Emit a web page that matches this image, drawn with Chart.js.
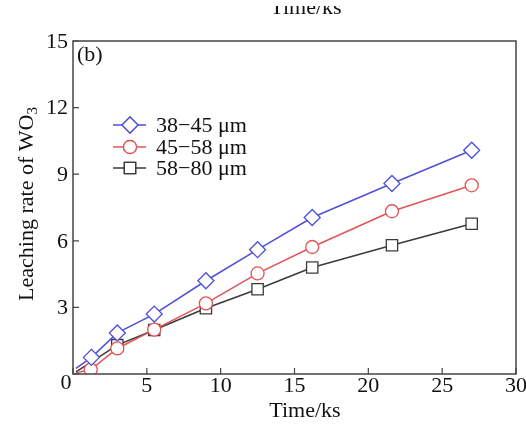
<!DOCTYPE html>
<html>
<head>
<meta charset="utf-8">
<script src="https://cdn.jsdelivr.net/npm/chart.js@4.4.0/dist/chart.umd.min.js"></script>
<style>
  html, body { margin: 0; padding: 0; background: #fff; }
  #wrap { width: 526px; height: 425px; }
</style>
</head>
<body>
<div id="wrap"><canvas id="chart"></canvas></div>
<script>
// values
const seriesNames = ['38\u221245 \u03bcm', '45\u221258 \u03bcm', '58\u221280 \u03bcm'];
const time38 = [0.2, 1.25, 3.0, 5.5, 9.0, 12.5, 16.2, 21.6, 27.0];
const rate38 = [0.25, 0.75, 1.85, 2.7, 4.2, 5.6, 7.05, 8.58, 10.08];
const time45 = [0.2, 1.2, 3.0, 5.5, 9.0, 12.5, 16.2, 21.6, 27.0];
const rate45 = [0.05, 0.2, 1.15, 2.0, 3.18, 4.53, 5.72, 7.33, 8.5];
const time58 = [0.2, 3.0, 5.5, 9.0, 12.5, 16.2, 21.6, 27.0];
const rate58 = [0.1, 1.3, 1.98, 2.96, 3.82, 4.8, 5.8, 6.77];
const xTicks = [0, 5, 10, 15, 20, 25, 30];
const yTicks = [0, 3, 6, 9, 12, 15];

const serif = '"Liberation Serif", "DejaVu Serif", serif';
const colors = ['#4f4fd8', '#e25454', '#3a3a3a'];
const styles = ['rectRot', 'circle', 'rect'];
const radii = [8, 6.5, 8];

function pts(xs, ys) { return xs.map((x, i) => ({ x: x, y: ys[i] })); }

const sets = [pts(time38, rate38), pts(time45, rate45), pts(time58, rate58)].map((d, k) => ({
  label: seriesNames[k],
  data: d,
  borderColor: colors[k],
  backgroundColor: '#fff',
  borderWidth: 1.5,
  pointStyle: styles[k],
  pointRadius: d.map((p, i) => i === 0 ? 0 : radii[k]),
  pointBorderWidth: 1.3,
  pointBorderColor: colors[k],
  pointBackgroundColor: '#fff',
  tension: 0
}));

const decor = {
  id: 'decor',
  afterDatasetsDraw(chart) {
    const ctx = chart.ctx, a = chart.chartArea;
    const xs = chart.scales.x, ys = chart.scales.y;
    ctx.save();
    // frame
    ctx.strokeStyle = '#444';
    ctx.lineWidth = 1.5;
    ctx.strokeRect(a.left, a.top, a.right - a.left, a.bottom - a.top);
    // inward ticks
    ctx.lineWidth = 1.2;
    ctx.beginPath();
    xTicks.forEach(v => {
      const px = xs.getPixelForValue(v);
      ctx.moveTo(px, a.bottom); ctx.lineTo(px, a.bottom - 6);
    });
    yTicks.forEach(v => {
      const py = ys.getPixelForValue(v);
      ctx.moveTo(a.left, py); ctx.lineTo(a.left + 6, py);
    });
    ctx.stroke();

    ctx.fillStyle = '#111';
    ctx.font = '22px ' + serif;
    ctx.textBaseline = 'middle';
    // y tick labels
    ctx.textAlign = 'right';
    yTicks.forEach(v => {
      if (v === 0) return;
      ctx.fillText(String(v), a.left - 5, ys.getPixelForValue(v) + 1);
    });
    // x tick labels
    ctx.textAlign = 'center';
    xTicks.forEach(v => {
      if (v === 0) return;
      ctx.fillText(String(v), xs.getPixelForValue(v), a.bottom + 12);
    });
    ctx.fillText('0', a.left - 7, a.bottom + 9);

    // axis titles
    ctx.fillText('Time/ks', 305, 411);
    // cropped title remnant at the very top
    ctx.textBaseline = 'alphabetic';
    ctx.fillText('Time/ks', 306, 14);
    ctx.fillStyle = '#fff';
    ctx.fillRect(0, 0, 526, 6);
    ctx.fillStyle = '#111';
    ctx.textBaseline = 'middle';
    ctx.save();
    ctx.translate(27, 204);
    ctx.rotate(-Math.PI / 2);
    ctx.font = '22px ' + serif;
    const main = 'Leaching rate of WO';
    const w1 = ctx.measureText(main).width;
    ctx.font = '15px ' + serif;
    const w2 = ctx.measureText('3').width;
    const start = -(w1 + w2) / 2;
    ctx.textAlign = 'left';
    ctx.font = '22px ' + serif;
    ctx.fillText(main, start, 0);
    ctx.font = '15px ' + serif;
    ctx.fillText('3', start + w1, 6);
    ctx.restore();

    // panel label
    ctx.textAlign = 'left';
    ctx.font = '22px ' + serif;
    ctx.fillText('(b)', 77, 55);

    // legend
    const rows = [125, 147, 168];
    chart.data.datasets.forEach((ds, k) => {
      const y = rows[k];
      ctx.strokeStyle = colors[k];
      ctx.lineWidth = 1.5;
      ctx.beginPath();
      ctx.moveTo(113, y); ctx.lineTo(146, y);
      ctx.stroke();
      ctx.fillStyle = '#fff';
      ctx.lineWidth = 1.3;
      Chart.helpers.drawPoint(ctx, { pointStyle: styles[k], radius: radii[k], borderWidth: 1.3 }, 130, y);
      ctx.fill();
      ctx.stroke();
      ctx.fillStyle = '#111';
      ctx.font = '22px ' + serif;
      ctx.fillText(ds.label, 156, y + 1);
    });
    ctx.restore();
  }
};

new Chart(document.getElementById('chart'), {
  type: 'line',
  data: { datasets: sets },
  options: {
    responsive: true,
    maintainAspectRatio: false,
    animation: false,
    layout: { padding: { top: 41, right: 10, left: 0, bottom: 0 } },
    plugins: { legend: { display: false }, tooltip: { enabled: false } },
    scales: {
      x: {
        type: 'linear', min: 0, max: 30,
        ticks: { display: false, stepSize: 5 },
        grid: { display: false },
        border: { display: false },
        afterFit(s) { s.height = 51; }
      },
      y: {
        min: 0, max: 15,
        ticks: { display: false, stepSize: 3 },
        grid: { display: false },
        border: { display: false },
        afterFit(s) { s.width = 73; }
      }
    }
  },
  plugins: [decor]
});
</script>
</body>
</html>
